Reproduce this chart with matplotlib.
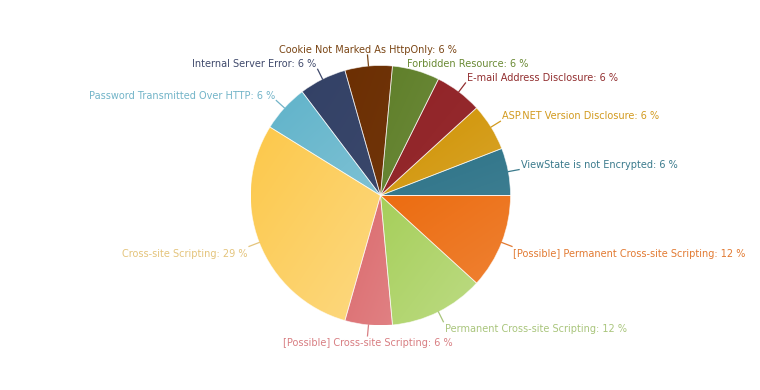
import numpy as np
import matplotlib
matplotlib.use("Agg")
import matplotlib.pyplot as plt
from matplotlib.colors import to_rgb


# Vulnerability counts (percentages are count / total)
categories = [
    "ViewState is not Encrypted",
    "ASP.NET Version Disclosure",
    "E-mail Address Disclosure",
    "Forbidden Resource",
    "Cookie Not Marked As HttpOnly",
    "Internal Server Error",
    "Password Transmitted Over HTTP",
    "Cross-site Scripting",
    "[Possible] Cross-site Scripting",
    "Permanent Cross-site Scripting",
    "[Possible] Permanent Cross-site Scripting",
]
counts = [1, 1, 1, 1, 1, 1, 1, 5, 1, 2, 2]
slice_colors = [
    "#2d7388", "#d09200", "#912327", "#5f7f29", "#6c2f03", "#334166",
    "#60b3ca", "#fcc84a", "#db6a6d", "#a6cf5a", "#ec6c10",
]
label_colors = [
    "#3a7a8c", "#d29a1e", "#922f30", "#6a8a34", "#7a4514", "#404a6c",
    "#72b4c8", "#e4c47c", "#d87e82", "#a9c57c", "#e27a32",
]

W, H = 760, 390
CX, CY, R = 380.5, 390 - 195.5, 130

fig = plt.figure(figsize=(W / 100, H / 100), dpi=100)
ax = fig.add_axes([0, 0, 1, 1])

wedges, _ = ax.pie(counts, colors=slice_colors, startangle=0, counterclock=True,
                   radius=R, center=(CX, CY),
                   wedgeprops=dict(edgecolor=(1, 1, 1, 0.6), linewidth=0.6))
ax.set_xlim(0, W)
ax.set_ylim(0, H)
ax.set_aspect("equal")
ax.axis("off")

# soft diagonal gradient inside each slice (lighter toward bottom-right);
# light colours brighten more than dark ones
for w, c in zip(wedges, slice_colors):
    th = np.deg2rad(np.linspace(w.theta1, w.theta2, 60))
    px = np.r_[CX, CX + R * np.cos(th)]
    py = np.r_[CY, CY + R * np.sin(th)]
    x0, x1, y0, y1 = px.min(), px.max(), py.min(), py.max()
    gx, gy = np.meshgrid(np.linspace(0, 1, 120), np.linspace(0, 1, 120))
    t = (gx + gy) / 2                      # 0 top-left -> 1 bottom-right
    base = np.array(to_rgb(c))
    lum = 0.299 * base[0] + 0.587 * base[1] + 0.114 * base[2]
    m = 0.5 * lum ** 2 * t[..., None]
    img = base + m * (1 - base)
    im = ax.imshow(img, extent=(x0, x1, y0, y1), origin="upper",
                   zorder=w.get_zorder(), interpolation="bilinear")
    im.set_clip_path(w)
    w.set_zorder(w.get_zorder() + 0.1)
    w.set_facecolor("none")

# labels pushed aside by the chart to avoid collisions
nudges = {"Forbidden Resource": (-14, -9)}

total = sum(counts)
for w, name, lc, cnt in zip(wedges, categories, label_colors, counts):
    ang = np.deg2rad((w.theta1 + w.theta2) / 2)
    ca, sa = np.cos(ang), np.sin(ang)
    p0 = (CX + R * ca, CY + R * sa)
    p1 = (CX + (R + 11) * ca, CY + (R + 11) * sa)
    ha = "left" if ca > 0.15 else ("right" if ca < -0.15 else "center")
    va = "bottom" if sa > 0 else "top"
    tx = p1[0] + (1.5 if ha == "left" else (-1.5 if ha == "right" else 0))
    ty = p1[1] + (0 if va == "bottom" else -2.5)
    if name in nudges:
        dx, dy = nudges[name]
        tx, ty = tx + dx, ty + dy
    else:
        ax.plot([p0[0], p1[0]], [p0[1], p1[1]], color=lc, lw=0.9, zorder=5)
    ax.text(tx, ty, f"{name}: {round(100 * cnt / total)} %", color=lc,
            fontsize=7.0, ha=ha, va=va, family="DejaVu Sans", zorder=6)

fig.savefig("out.png", dpi=100)
